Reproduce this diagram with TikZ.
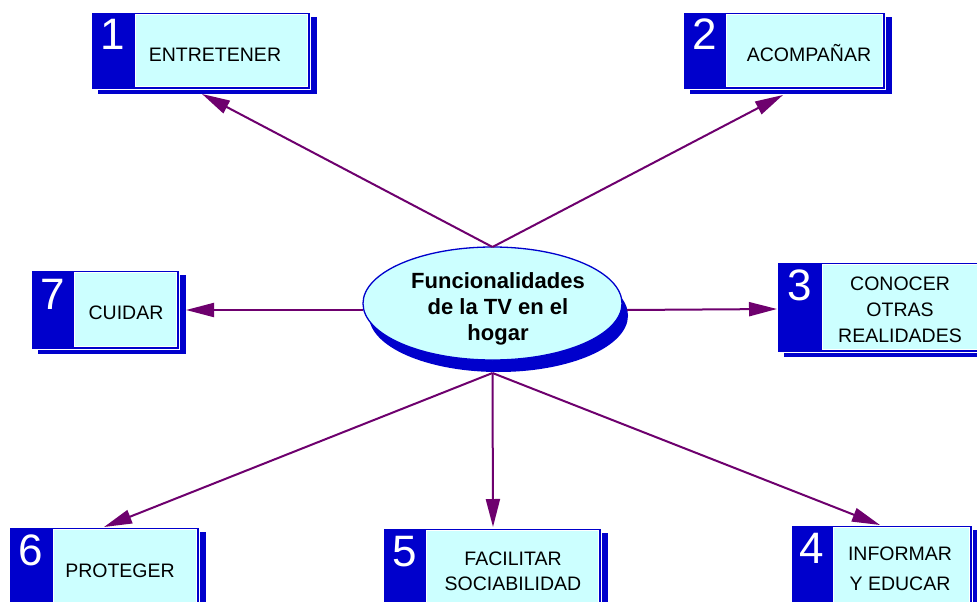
\documentclass[tikz,border=0pt]{standalone}
\usepackage{fontspec}
\setmainfont{Liberation Sans}
\usetikzlibrary{arrows.meta,shadows,shapes.geometric,calc}
\definecolor{boxblue}{RGB}{0,0,204}
\definecolor{cyanfill}{RGB}{204,255,255}
\definecolor{arrowpurple}{RGB}{110,0,110}
\begin{document}
\begin{tikzpicture}[x=1pt,y=-1pt,
  boxshadow/.style={drop shadow={shadow xshift=7pt,shadow yshift=-5pt,fill=boxblue,opacity=1}},
  mainbox/.style={rectangle,fill=boxblue,draw=white,line width=0.8pt,inner sep=0pt,outer sep=0pt,anchor=north west,boxshadow},
  cyanpart/.style={fill=cyanfill,draw=white,line width=1pt},
  numtxt/.style={anchor=base,text=white,inner sep=0pt,font=\fontsize{44}{44}\selectfont},
  lbl/.style={anchor=base,inner sep=0pt,align=center,font=\fontsize{19.5}{25}\selectfont},
  conn/.style={draw=arrowpurple,line width=2pt,-{Triangle[length=28pt,width=14pt]}},
  etxt/.style={anchor=base,inner sep=0pt,align=center,font=\fontsize{22}{26}\selectfont\bfseries}]
\useasboundingbox (0,0) rectangle (977,602);
\clip (0,0) rectangle (977,602);
\fill[white] (0,0) rectangle (977,602);

% central ellipse
\node[ellipse,fill=cyanfill,draw=boxblue,line width=1.3pt,inner sep=0pt,outer sep=0pt,
  minimum width=259pt,minimum height=113pt,
  drop shadow={shadow xshift=6pt,shadow yshift=-12pt,fill=boxblue,opacity=1}] (e) at (492.5,303.5) {};
\node[etxt] (et) at (498,340) {Funcionalidades\\de la TV en el\\hogar};

% box 1
\node[mainbox,minimum width=219pt,minimum height=77pt] (b1) at (91,12) {};
\path[cyanpart] ([xshift=44pt,yshift=-2.5pt]b1.north west) rectangle ([xshift=-2.5pt,yshift=2.5pt]b1.south east);
\node[numtxt] (n1) at (113,50) {1};
\node[lbl] (l1) at (215,62) {ENTRETENER};

% box 2
\node[mainbox,minimum width=202pt,minimum height=77pt] (b2) at (683,12) {};
\path[cyanpart] ([xshift=43pt,yshift=-2.5pt]b2.north west) rectangle ([xshift=-2.5pt,yshift=2.5pt]b2.south east);
\node[numtxt] (n2) at (704.5,50) {2};
\node[lbl] (l2) at (809,62) {ACOMPAÑAR};

% box 3
\node[mainbox,minimum width=208pt,minimum height=90pt] (b3) at (777,262) {};
\path[cyanpart] ([xshift=45pt,yshift=-2.5pt]b3.north west) rectangle ([xshift=-2.5pt,yshift=2.5pt]b3.south east);
\node[numtxt] (n3) at (800,300) {3};
\node[lbl,font=\fontsize{19.5}{26}\selectfont] (l3) at (900,342) {CONOCER\\OTRAS\\REALIDADES};

% box 4
\node[mainbox,minimum width=181pt,minimum height=87pt] (b4) at (791,525) {};
\path[cyanpart] ([xshift=42pt,yshift=-2.5pt]b4.north west) rectangle ([xshift=-2.5pt,yshift=2.5pt]b4.south east);
\node[numtxt] (n4) at (812,563) {4};
\node[lbl,font=\fontsize{19.5}{30}\selectfont] (l4) at (900,590) {INFORMAR\\Y EDUCAR};

% box 5
\node[mainbox,minimum width=218pt,minimum height=84pt] (b5) at (383,528) {};
\path[cyanpart] ([xshift=43pt,yshift=-2.5pt]b5.north west) rectangle ([xshift=-2.5pt,yshift=2.5pt]b5.south east);
\node[numtxt] (n5) at (404.5,566) {5};
\node[lbl,font=\fontsize{19.5}{25}\selectfont] (l5) at (513,590) {FACILITAR\\SOCIABILIDAD};

% box 6
\node[mainbox,minimum width=190pt,minimum height=85pt] (b6) at (9,527) {};
\path[cyanpart] ([xshift=44pt,yshift=-2.5pt]b6.north west) rectangle ([xshift=-2.5pt,yshift=2.5pt]b6.south east);
\node[numtxt] (n6) at (31,565) {6};
\node[lbl] (l6) at (120,577) {PROTEGER};

% box 7
\node[mainbox,minimum width=148pt,minimum height=79pt] (b7) at (31,270) {};
\path[cyanpart] ([xshift=43pt,yshift=-2.5pt]b7.north west) rectangle ([xshift=-2.5pt,yshift=2.5pt]b7.south east);
\node[numtxt] (n7) at (52.5,309) {7};
\node[lbl] (l7) at (126,319) {CUIDAR};

% ports on the ellipse
\coordinate (ptop) at (e.north);
\coordinate (pbot) at ([yshift=-13pt]e.south);
\coordinate (pleft) at (363,310);
\coordinate (pright) at (627,310);

% arrow tips on the boxes
\coordinate (t1) at (202,94);
\coordinate (t2) at (783,95);
\coordinate (t3) at (777,309);
\coordinate (t4) at (880,525);
\coordinate (t5) at (493,527);
\coordinate (t6) at (104,527);
\coordinate (t7) at (186,310);

\draw[conn] (ptop) -- (t1);
\draw[conn] (ptop) -- (t2);
\draw[conn] (pright) -- (t3);
\draw[conn] (pbot) -- (t4);
\draw[conn] (pbot) -- (t5);
\draw[conn] (pbot) -- (t6);
\draw[conn] (pleft) -- (t7);
\end{tikzpicture}
\end{document}
